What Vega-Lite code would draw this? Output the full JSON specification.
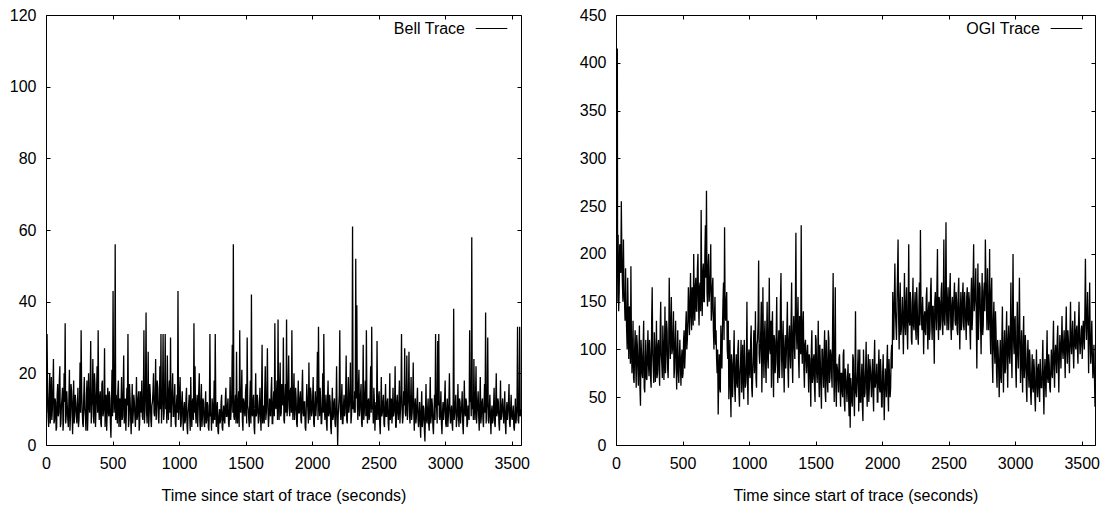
{
"$schema": "https://vega.github.io/schema/vega-lite/v6.json",
"background": "white",
"padding": {"left": 8, "top": 6, "right": 2, "bottom": 2},
"spacing": 95,
"bounds": "flush",
"resolve": {"scale": {"color": "independent"}, "legend": {"color": "independent"}},
"config": {
 "font": "Liberation Sans",
 "view": {"stroke": "#000000", "strokeWidth": 1},
 "axis": {"grid": false, "domain": false, "ticks": true, "tickColor": "#000000", "tickSize": -4, "tickWidth": 1, "labelColor": "#000000", "labelFontSize": 16, "labelFont": "Liberation Sans", "titleFont": "Liberation Sans", "titleFontSize": 16, "titleFontWeight": "normal", "titleColor": "#000000", "labelFlush": false, "labelOverlap": false, "format": "d"},
 "axisX": {"labelPadding": 14, "titlePadding": 16},
 "axisY": {"labelPadding": 14},
 "legend": {"labelFont": "Liberation Sans", "labelFontSize": 16, "labelColor": "#000000"}
},
"datasets": {
"bell": [
{"t":0,"v":22},{"t":8,"v":31},{"t":16,"v":8},{"t":24,"v":14},{"t":32,"v":6},{"t":40,"v":19},{"t":48,"v":10},{"t":56,"v":24},{"t":64,"v":7},{"t":72,"v":12},
{"t":80,"v":5},{"t":88,"v":17},{"t":96,"v":9},{"t":104,"v":22},{"t":112,"v":6},{"t":120,"v":13},{"t":128,"v":4},{"t":136,"v":20},{"t":144,"v":34},{"t":152,"v":8},
{"t":160,"v":11},{"t":168,"v":5},{"t":176,"v":21},{"t":184,"v":8},{"t":192,"v":15},{"t":200,"v":3},{"t":208,"v":18},{"t":216,"v":9},{"t":224,"v":12},{"t":232,"v":6},
{"t":240,"v":16},{"t":248,"v":7},{"t":256,"v":23},{"t":264,"v":32},{"t":272,"v":10},{"t":280,"v":5},{"t":288,"v":19},{"t":296,"v":8},{"t":304,"v":14},{"t":312,"v":4},
{"t":320,"v":20},{"t":328,"v":9},{"t":336,"v":29},{"t":344,"v":11},{"t":352,"v":24},{"t":360,"v":6},{"t":368,"v":17},{"t":376,"v":10},{"t":384,"v":22},{"t":392,"v":32},
{"t":400,"v":7},{"t":408,"v":15},{"t":416,"v":5},{"t":424,"v":18},{"t":432,"v":9},{"t":440,"v":27},{"t":448,"v":12},{"t":456,"v":4},{"t":464,"v":16},{"t":472,"v":8},
{"t":480,"v":13},{"t":488,"v":2},{"t":496,"v":21},{"t":504,"v":43},{"t":512,"v":9},{"t":520,"v":56},{"t":528,"v":14},{"t":536,"v":6},{"t":544,"v":18},{"t":552,"v":11},
{"t":560,"v":5},{"t":568,"v":19},{"t":576,"v":8},{"t":584,"v":25},{"t":592,"v":10},{"t":600,"v":4},{"t":608,"v":16},{"t":616,"v":31},{"t":624,"v":7},{"t":632,"v":13},
{"t":640,"v":3},{"t":648,"v":17},{"t":656,"v":9},{"t":664,"v":12},{"t":672,"v":5},{"t":680,"v":19},{"t":688,"v":8},{"t":696,"v":15},{"t":704,"v":6},{"t":712,"v":11},
{"t":720,"v":18},{"t":728,"v":7},{"t":736,"v":32},{"t":744,"v":10},{"t":752,"v":37},{"t":760,"v":6},{"t":768,"v":26},{"t":776,"v":9},{"t":784,"v":14},{"t":792,"v":5},
{"t":800,"v":12},{"t":808,"v":20},{"t":816,"v":8},{"t":824,"v":24},{"t":832,"v":11},{"t":840,"v":16},{"t":848,"v":6},{"t":856,"v":22},{"t":864,"v":31},{"t":872,"v":10},
{"t":880,"v":31},{"t":888,"v":9},{"t":896,"v":31},{"t":904,"v":13},{"t":912,"v":25},{"t":920,"v":7},{"t":928,"v":18},{"t":936,"v":30},{"t":944,"v":11},{"t":952,"v":20},
{"t":960,"v":8},{"t":968,"v":17},{"t":976,"v":5},{"t":984,"v":14},{"t":992,"v":43},{"t":1000,"v":9},{"t":1008,"v":19},{"t":1016,"v":6},{"t":1024,"v":15},{"t":1032,"v":4},
{"t":1040,"v":12},{"t":1048,"v":7},{"t":1056,"v":16},{"t":1064,"v":3},{"t":1072,"v":11},{"t":1080,"v":8},{"t":1088,"v":19},{"t":1096,"v":5},{"t":1104,"v":13},{"t":1112,"v":34},
{"t":1120,"v":22},{"t":1128,"v":6},{"t":1136,"v":14},{"t":1144,"v":10},{"t":1152,"v":20},{"t":1160,"v":4},{"t":1168,"v":17},{"t":1176,"v":8},{"t":1184,"v":12},{"t":1192,"v":5},
{"t":1200,"v":15},{"t":1208,"v":7},{"t":1216,"v":11},{"t":1224,"v":4},{"t":1232,"v":31},{"t":1240,"v":9},{"t":1248,"v":13},{"t":1256,"v":6},{"t":1264,"v":18},{"t":1272,"v":31},
{"t":1280,"v":5},{"t":1288,"v":12},{"t":1296,"v":3},{"t":1304,"v":10},{"t":1312,"v":7},{"t":1320,"v":14},{"t":1328,"v":4},{"t":1336,"v":11},{"t":1344,"v":6},{"t":1352,"v":16},
{"t":1360,"v":8},{"t":1368,"v":13},{"t":1376,"v":5},{"t":1384,"v":19},{"t":1392,"v":10},{"t":1400,"v":28},{"t":1408,"v":56},{"t":1416,"v":7},{"t":1424,"v":14},{"t":1432,"v":26},
{"t":1440,"v":6},{"t":1448,"v":15},{"t":1456,"v":32},{"t":1464,"v":9},{"t":1472,"v":21},{"t":1480,"v":4},{"t":1488,"v":12},{"t":1496,"v":8},{"t":1504,"v":17},{"t":1512,"v":30},
{"t":1520,"v":10},{"t":1528,"v":5},{"t":1536,"v":18},{"t":1544,"v":42},{"t":1552,"v":8},{"t":1560,"v":14},{"t":1568,"v":3},{"t":1576,"v":20},{"t":1584,"v":9},{"t":1592,"v":12},
{"t":1600,"v":7},{"t":1608,"v":16},{"t":1616,"v":4},{"t":1624,"v":28},{"t":1632,"v":11},{"t":1640,"v":6},{"t":1648,"v":22},{"t":1656,"v":9},{"t":1664,"v":27},{"t":1672,"v":5},
{"t":1680,"v":13},{"t":1688,"v":8},{"t":1696,"v":19},{"t":1704,"v":6},{"t":1712,"v":15},{"t":1720,"v":34},{"t":1728,"v":10},{"t":1736,"v":18},{"t":1744,"v":35},{"t":1752,"v":7},
{"t":1760,"v":23},{"t":1768,"v":9},{"t":1776,"v":14},{"t":1784,"v":30},{"t":1792,"v":6},{"t":1800,"v":17},{"t":1808,"v":35},{"t":1816,"v":11},{"t":1824,"v":25},{"t":1832,"v":8},
{"t":1840,"v":16},{"t":1848,"v":32},{"t":1856,"v":7},{"t":1864,"v":20},{"t":1872,"v":10},{"t":1880,"v":13},{"t":1888,"v":5},{"t":1896,"v":18},{"t":1904,"v":9},{"t":1912,"v":15},
{"t":1920,"v":6},{"t":1928,"v":21},{"t":1936,"v":8},{"t":1944,"v":12},{"t":1952,"v":4},{"t":1960,"v":17},{"t":1968,"v":10},{"t":1976,"v":23},{"t":1984,"v":7},{"t":1992,"v":14},
{"t":2000,"v":9},{"t":2008,"v":19},{"t":2016,"v":5},{"t":2024,"v":15},{"t":2032,"v":11},{"t":2040,"v":26},{"t":2048,"v":33},{"t":2056,"v":8},{"t":2064,"v":13},{"t":2072,"v":6},
{"t":2080,"v":20},{"t":2088,"v":31},{"t":2096,"v":7},{"t":2104,"v":14},{"t":2112,"v":4},{"t":2120,"v":18},{"t":2128,"v":9},{"t":2136,"v":12},{"t":2144,"v":3},{"t":2152,"v":16},
{"t":2160,"v":8},{"t":2168,"v":13},{"t":2176,"v":5},{"t":2184,"v":22},{"t":2192,"v":0},{"t":2200,"v":11},{"t":2208,"v":32},{"t":2216,"v":7},{"t":2224,"v":17},{"t":2232,"v":6},
{"t":2240,"v":14},{"t":2248,"v":9},{"t":2256,"v":25},{"t":2264,"v":6},{"t":2272,"v":19},{"t":2280,"v":11},{"t":2288,"v":23},{"t":2296,"v":8},{"t":2304,"v":61},{"t":2312,"v":12},
{"t":2320,"v":15},{"t":2328,"v":52},{"t":2336,"v":39},{"t":2344,"v":7},{"t":2352,"v":21},{"t":2360,"v":10},{"t":2368,"v":17},{"t":2376,"v":5},{"t":2384,"v":28},{"t":2392,"v":9},
{"t":2400,"v":18},{"t":2408,"v":32},{"t":2416,"v":6},{"t":2424,"v":13},{"t":2432,"v":8},{"t":2440,"v":22},{"t":2448,"v":33},{"t":2456,"v":11},{"t":2464,"v":16},{"t":2472,"v":4},
{"t":2480,"v":12},{"t":2488,"v":29},{"t":2496,"v":7},{"t":2504,"v":15},{"t":2512,"v":3},{"t":2520,"v":19},{"t":2528,"v":9},{"t":2536,"v":14},{"t":2544,"v":5},{"t":2552,"v":17},
{"t":2560,"v":8},{"t":2568,"v":13},{"t":2576,"v":4},{"t":2584,"v":20},{"t":2592,"v":10},{"t":2600,"v":6},{"t":2608,"v":16},{"t":2616,"v":9},{"t":2624,"v":22},{"t":2632,"v":5},
{"t":2640,"v":14},{"t":2648,"v":7},{"t":2656,"v":18},{"t":2664,"v":10},{"t":2672,"v":31},{"t":2680,"v":6},{"t":2688,"v":15},{"t":2696,"v":27},{"t":2704,"v":8},{"t":2712,"v":25},
{"t":2720,"v":11},{"t":2728,"v":26},{"t":2736,"v":6},{"t":2744,"v":19},{"t":2752,"v":9},{"t":2760,"v":23},{"t":2768,"v":4},{"t":2776,"v":13},{"t":2784,"v":8},{"t":2792,"v":16},
{"t":2800,"v":5},{"t":2808,"v":12},{"t":2816,"v":2},{"t":2824,"v":15},{"t":2832,"v":7},{"t":2840,"v":10},{"t":2848,"v":1},{"t":2856,"v":17},{"t":2864,"v":6},{"t":2872,"v":13},
{"t":2880,"v":4},{"t":2888,"v":19},{"t":2896,"v":8},{"t":2904,"v":11},{"t":2912,"v":3},{"t":2920,"v":14},{"t":2928,"v":31},{"t":2936,"v":10},{"t":2944,"v":29},{"t":2952,"v":31},
{"t":2960,"v":7},{"t":2968,"v":15},{"t":2976,"v":3},{"t":2984,"v":12},{"t":2992,"v":9},{"t":3000,"v":18},{"t":3008,"v":5},{"t":3016,"v":13},{"t":3024,"v":8},{"t":3032,"v":20},
{"t":3040,"v":6},{"t":3048,"v":11},{"t":3056,"v":4},{"t":3064,"v":38},{"t":3072,"v":9},{"t":3080,"v":14},{"t":3088,"v":7},{"t":3096,"v":17},{"t":3104,"v":5},{"t":3112,"v":12},
{"t":3120,"v":9},{"t":3128,"v":15},{"t":3136,"v":3},{"t":3144,"v":18},{"t":3152,"v":8},{"t":3160,"v":12},{"t":3168,"v":6},{"t":3176,"v":10},{"t":3184,"v":32},{"t":3192,"v":14},
{"t":3200,"v":58},{"t":3208,"v":12},{"t":3216,"v":24},{"t":3224,"v":7},{"t":3232,"v":22},{"t":3240,"v":9},{"t":3248,"v":15},{"t":3256,"v":4},{"t":3264,"v":19},{"t":3272,"v":8},
{"t":3280,"v":13},{"t":3288,"v":5},{"t":3296,"v":17},{"t":3304,"v":37},{"t":3312,"v":10},{"t":3320,"v":30},{"t":3328,"v":6},{"t":3336,"v":14},{"t":3344,"v":3},{"t":3352,"v":11},
{"t":3360,"v":7},{"t":3368,"v":16},{"t":3376,"v":5},{"t":3384,"v":20},{"t":3392,"v":9},{"t":3400,"v":12},{"t":3408,"v":4},{"t":3416,"v":18},{"t":3424,"v":8},{"t":3432,"v":13},
{"t":3440,"v":6},{"t":3448,"v":15},{"t":3456,"v":3},{"t":3464,"v":12},{"t":3472,"v":9},{"t":3480,"v":17},{"t":3488,"v":5},{"t":3496,"v":14},{"t":3504,"v":7},{"t":3512,"v":11},
{"t":3520,"v":4},{"t":3528,"v":13},{"t":3536,"v":8},{"t":3544,"v":33},{"t":3552,"v":6},{"t":3560,"v":33},{"t":3568,"v":10},
{"t":4,"v":9},{"t":12,"v":15},{"t":20,"v":5},{"t":28,"v":20},{"t":36,"v":11},{"t":44,"v":7},{"t":52,"v":16},{"t":60,"v":6},{"t":68,"v":13},{"t":76,"v":4},
{"t":84,"v":14},{"t":92,"v":8},{"t":100,"v":18},{"t":108,"v":5},{"t":116,"v":11},{"t":124,"v":16},{"t":132,"v":7},{"t":140,"v":12},{"t":148,"v":6},{"t":156,"v":15},
{"t":164,"v":7},{"t":172,"v":13},{"t":180,"v":4},{"t":188,"v":17},{"t":196,"v":9},{"t":204,"v":12},{"t":212,"v":6},{"t":220,"v":14},{"t":228,"v":8},{"t":236,"v":11},
{"t":244,"v":5},{"t":252,"v":12},{"t":260,"v":9},{"t":268,"v":15},{"t":276,"v":6},{"t":284,"v":14},{"t":292,"v":10},{"t":300,"v":4},{"t":308,"v":18},{"t":316,"v":9},
{"t":324,"v":11},{"t":332,"v":16},{"t":340,"v":6},{"t":348,"v":13},{"t":356,"v":8},{"t":364,"v":20},{"t":372,"v":5},{"t":380,"v":15},{"t":388,"v":9},{"t":396,"v":12},
{"t":404,"v":13},{"t":412,"v":6},{"t":420,"v":17},{"t":428,"v":8},{"t":436,"v":12},{"t":444,"v":5},{"t":452,"v":14},{"t":460,"v":9},{"t":468,"v":10},{"t":476,"v":15},
{"t":484,"v":6},{"t":492,"v":11},{"t":500,"v":8},{"t":508,"v":16},{"t":516,"v":12},{"t":524,"v":7},{"t":532,"v":10},{"t":540,"v":15},{"t":548,"v":5},{"t":556,"v":13},
{"t":564,"v":12},{"t":572,"v":7},{"t":580,"v":15},{"t":588,"v":6},{"t":596,"v":13},{"t":604,"v":9},{"t":612,"v":11},{"t":620,"v":5},{"t":628,"v":17},{"t":636,"v":8},
{"t":644,"v":10},{"t":652,"v":6},{"t":660,"v":14},{"t":668,"v":8},{"t":676,"v":11},{"t":684,"v":7},{"t":692,"v":13},{"t":700,"v":4},{"t":708,"v":15},{"t":716,"v":9},
{"t":724,"v":8},{"t":732,"v":14},{"t":740,"v":6},{"t":748,"v":16},{"t":756,"v":9},{"t":764,"v":12},{"t":772,"v":5},{"t":780,"v":17},{"t":788,"v":7},{"t":796,"v":11},
{"t":804,"v":15},{"t":812,"v":9},{"t":820,"v":13},{"t":828,"v":7},{"t":836,"v":18},{"t":844,"v":8},{"t":852,"v":12},{"t":860,"v":10},{"t":868,"v":6},{"t":876,"v":14},
{"t":884,"v":7},{"t":892,"v":16},{"t":900,"v":10},{"t":908,"v":6},{"t":916,"v":12},{"t":924,"v":15},{"t":932,"v":9},{"t":940,"v":5},{"t":948,"v":14},{"t":956,"v":8},
{"t":964,"v":13},{"t":972,"v":6},{"t":980,"v":11},{"t":988,"v":9},{"t":996,"v":7},{"t":1004,"v":15},{"t":1012,"v":5},{"t":1020,"v":12},{"t":1028,"v":8},{"t":1036,"v":10},
{"t":1044,"v":6},{"t":1052,"v":13},{"t":1060,"v":5},{"t":1068,"v":9},{"t":1076,"v":14},{"t":1084,"v":4},{"t":1092,"v":10},{"t":1100,"v":12},{"t":1108,"v":7},{"t":1116,"v":9},
{"t":1124,"v":9},{"t":1132,"v":11},{"t":1140,"v":5},{"t":1148,"v":15},{"t":1156,"v":7},{"t":1164,"v":12},{"t":1172,"v":5},{"t":1180,"v":13},{"t":1188,"v":6},{"t":1196,"v":10},
{"t":1204,"v":6},{"t":1212,"v":12},{"t":1220,"v":5},{"t":1228,"v":10},{"t":1236,"v":8},{"t":1244,"v":4},{"t":1252,"v":11},{"t":1260,"v":9},{"t":1268,"v":7},{"t":1276,"v":12},
{"t":1284,"v":9},{"t":1292,"v":4},{"t":1300,"v":8},{"t":1308,"v":6},{"t":1316,"v":12},{"t":1324,"v":5},{"t":1332,"v":9},{"t":1340,"v":7},{"t":1348,"v":13},{"t":1356,"v":8},
{"t":1364,"v":11},{"t":1372,"v":6},{"t":1380,"v":10},{"t":1388,"v":7},{"t":1396,"v":14},{"t":1404,"v":9},{"t":1412,"v":8},{"t":1420,"v":11},{"t":1428,"v":6},{"t":1436,"v":9},
{"t":1444,"v":12},{"t":1452,"v":5},{"t":1460,"v":10},{"t":1468,"v":14},{"t":1476,"v":7},{"t":1484,"v":13},{"t":1492,"v":9},{"t":1500,"v":15},{"t":1508,"v":6},{"t":1516,"v":11},
{"t":1524,"v":7},{"t":1532,"v":13},{"t":1540,"v":6},{"t":1548,"v":9},{"t":1556,"v":12},{"t":1564,"v":5},{"t":1572,"v":11},{"t":1580,"v":8},{"t":1588,"v":14},{"t":1596,"v":6},
{"t":1604,"v":11},{"t":1612,"v":8},{"t":1620,"v":13},{"t":1628,"v":6},{"t":1636,"v":9},{"t":1644,"v":15},{"t":1652,"v":7},{"t":1660,"v":14},{"t":1668,"v":10},{"t":1676,"v":8},
{"t":1684,"v":9},{"t":1692,"v":15},{"t":1700,"v":6},{"t":1708,"v":12},{"t":1716,"v":8},{"t":1724,"v":11},{"t":1732,"v":14},{"t":1740,"v":7},{"t":1748,"v":12},{"t":1756,"v":16},
{"t":1764,"v":8},{"t":1772,"v":17},{"t":1780,"v":11},{"t":1788,"v":7},{"t":1796,"v":13},{"t":1804,"v":9},{"t":1812,"v":8},{"t":1820,"v":16},{"t":1828,"v":10},{"t":1836,"v":15},
{"t":1844,"v":9},{"t":1852,"v":12},{"t":1860,"v":14},{"t":1868,"v":7},{"t":1876,"v":16},{"t":1884,"v":6},{"t":1892,"v":12},{"t":1900,"v":9},{"t":1908,"v":13},{"t":1916,"v":7},
{"t":1924,"v":15},{"t":1932,"v":9},{"t":1940,"v":12},{"t":1948,"v":5},{"t":1956,"v":10},{"t":1964,"v":13},{"t":1972,"v":6},{"t":1980,"v":11},{"t":1988,"v":16},{"t":1996,"v":8},
{"t":2004,"v":13},{"t":2012,"v":6},{"t":2020,"v":11},{"t":2028,"v":8},{"t":2036,"v":14},{"t":2044,"v":7},{"t":2052,"v":12},{"t":2060,"v":16},{"t":2068,"v":6},{"t":2076,"v":11},
{"t":2084,"v":9},{"t":2092,"v":12},{"t":2100,"v":10},{"t":2108,"v":6},{"t":2116,"v":13},{"t":2124,"v":8},{"t":2132,"v":14},{"t":2140,"v":5},{"t":2148,"v":10},{"t":2156,"v":7},
{"t":2164,"v":12},{"t":2172,"v":6},{"t":2180,"v":11},{"t":2188,"v":9},{"t":2196,"v":8},{"t":2204,"v":14},{"t":2212,"v":10},{"t":2220,"v":12},{"t":2228,"v":6},{"t":2236,"v":11},
{"t":2244,"v":8},{"t":2252,"v":14},{"t":2260,"v":7},{"t":2268,"v":12},{"t":2276,"v":9},{"t":2284,"v":15},{"t":2292,"v":6},{"t":2300,"v":13},{"t":2308,"v":10},{"t":2316,"v":9},
{"t":2324,"v":9},{"t":2332,"v":13},{"t":2340,"v":11},{"t":2348,"v":16},{"t":2356,"v":8},{"t":2364,"v":14},{"t":2372,"v":6},{"t":2380,"v":12},{"t":2388,"v":7},{"t":2396,"v":14},
{"t":2404,"v":8},{"t":2412,"v":11},{"t":2420,"v":12},{"t":2428,"v":7},{"t":2436,"v":14},{"t":2444,"v":9},{"t":2452,"v":10},{"t":2460,"v":6},{"t":2468,"v":12},{"t":2476,"v":9},
{"t":2484,"v":7},{"t":2492,"v":11},{"t":2500,"v":13},{"t":2508,"v":6},{"t":2516,"v":10},{"t":2524,"v":8},{"t":2532,"v":12},{"t":2540,"v":6},{"t":2548,"v":11},{"t":2556,"v":8},
{"t":2564,"v":12},{"t":2572,"v":6},{"t":2580,"v":10},{"t":2588,"v":7},{"t":2596,"v":13},{"t":2604,"v":9},{"t":2612,"v":8},{"t":2620,"v":11},{"t":2628,"v":5},{"t":2636,"v":12},
{"t":2644,"v":9},{"t":2652,"v":12},{"t":2660,"v":6},{"t":2668,"v":14},{"t":2676,"v":10},{"t":2684,"v":8},{"t":2692,"v":11},{"t":2700,"v":9},{"t":2708,"v":13},{"t":2716,"v":7},
{"t":2724,"v":14},{"t":2732,"v":8},{"t":2740,"v":12},{"t":2748,"v":7},{"t":2756,"v":13},{"t":2764,"v":9},{"t":2772,"v":11},{"t":2780,"v":6},{"t":2788,"v":12},{"t":2796,"v":7},
{"t":2804,"v":9},{"t":2812,"v":6},{"t":2820,"v":10},{"t":2828,"v":5},{"t":2836,"v":11},{"t":2844,"v":4},{"t":2852,"v":9},{"t":2860,"v":7},{"t":2868,"v":10},{"t":2876,"v":6},
{"t":2884,"v":11},{"t":2892,"v":6},{"t":2900,"v":13},{"t":2908,"v":5},{"t":2916,"v":9},{"t":2924,"v":7},{"t":2932,"v":12},{"t":2940,"v":6},{"t":2948,"v":11},{"t":2956,"v":8},
{"t":2964,"v":10},{"t":2972,"v":6},{"t":2980,"v":9},{"t":2988,"v":7},{"t":2996,"v":13},{"t":3004,"v":6},{"t":3012,"v":10},{"t":3020,"v":5},{"t":3028,"v":12},{"t":3036,"v":9},
{"t":3044,"v":9},{"t":3052,"v":6},{"t":3060,"v":12},{"t":3068,"v":7},{"t":3076,"v":11},{"t":3084,"v":5},{"t":3092,"v":10},{"t":3100,"v":8},{"t":3108,"v":13},{"t":3116,"v":6},
{"t":3124,"v":11},{"t":3132,"v":6},{"t":3140,"v":10},{"t":3148,"v":9},{"t":3156,"v":13},{"t":3164,"v":5},{"t":3172,"v":11},{"t":3180,"v":7},{"t":3188,"v":12},{"t":3196,"v":8},
{"t":3204,"v":10},{"t":3212,"v":7},{"t":3220,"v":11},{"t":3228,"v":13},{"t":3236,"v":6},{"t":3244,"v":12},{"t":3252,"v":8},{"t":3260,"v":11},{"t":3268,"v":6},{"t":3276,"v":12},
{"t":3284,"v":7},{"t":3292,"v":11},{"t":3300,"v":9},{"t":3308,"v":6},{"t":3316,"v":12},{"t":3324,"v":7},{"t":3332,"v":10},{"t":3340,"v":8},{"t":3348,"v":9},{"t":3356,"v":6},
{"t":3364,"v":11},{"t":3372,"v":6},{"t":3380,"v":12},{"t":3388,"v":8},{"t":3396,"v":13},{"t":3404,"v":6},{"t":3412,"v":10},{"t":3420,"v":7},{"t":3428,"v":11},{"t":3436,"v":9},
{"t":3444,"v":10},{"t":3452,"v":6},{"t":3460,"v":9},{"t":3468,"v":7},{"t":3476,"v":12},{"t":3484,"v":6},{"t":3492,"v":10},{"t":3500,"v":8},{"t":3508,"v":9},{"t":3516,"v":5},
{"t":3524,"v":9},{"t":3532,"v":6},{"t":3540,"v":11},{"t":3548,"v":7},{"t":3556,"v":10},{"t":3564,"v":8}
],
"ogi": [
{"t":0,"v":180},{"t":10,"v":415},{"t":8,"v":150},{"t":16,"v":220},{"t":24,"v":160},{"t":32,"v":200},{"t":40,"v":255},{"t":48,"v":170},{"t":56,"v":215},{"t":64,"v":150},{"t":72,"v":185},
{"t":80,"v":120},{"t":88,"v":175},{"t":96,"v":90},{"t":104,"v":140},{"t":112,"v":187},{"t":120,"v":75},{"t":128,"v":130},{"t":136,"v":65},{"t":144,"v":120},{"t":152,"v":60},
{"t":160,"v":105},{"t":168,"v":62},{"t":176,"v":125},{"t":184,"v":41},{"t":192,"v":95},{"t":200,"v":70},{"t":208,"v":130},{"t":216,"v":55},{"t":224,"v":110},{"t":232,"v":68},
{"t":240,"v":120},{"t":248,"v":72},{"t":256,"v":95},{"t":264,"v":60},{"t":272,"v":165},{"t":280,"v":80},{"t":288,"v":118},{"t":296,"v":66},{"t":304,"v":130},{"t":312,"v":75},
{"t":320,"v":110},{"t":328,"v":62},{"t":336,"v":150},{"t":344,"v":85},{"t":352,"v":125},{"t":360,"v":68},{"t":368,"v":145},{"t":376,"v":95},{"t":384,"v":120},{"t":392,"v":70},
{"t":400,"v":175},{"t":408,"v":90},{"t":416,"v":155},{"t":424,"v":100},{"t":432,"v":140},{"t":440,"v":80},{"t":448,"v":130},{"t":456,"v":58},{"t":464,"v":120},{"t":472,"v":65},
{"t":480,"v":110},{"t":488,"v":62},{"t":496,"v":100},{"t":504,"v":75},{"t":512,"v":120},{"t":520,"v":95},{"t":528,"v":140},{"t":536,"v":110},{"t":544,"v":165},{"t":552,"v":115},
{"t":560,"v":180},{"t":568,"v":120},{"t":576,"v":160},{"t":584,"v":200},{"t":592,"v":130},{"t":600,"v":175},{"t":608,"v":140},{"t":616,"v":200},{"t":624,"v":125},{"t":632,"v":170},
{"t":640,"v":246},{"t":648,"v":135},{"t":656,"v":190},{"t":664,"v":150},{"t":672,"v":230},{"t":680,"v":266},{"t":688,"v":145},{"t":696,"v":200},{"t":704,"v":160},{"t":712,"v":210},
{"t":720,"v":140},{"t":728,"v":175},{"t":736,"v":100},{"t":744,"v":155},{"t":752,"v":120},{"t":760,"v":75},{"t":768,"v":32},{"t":776,"v":95},{"t":784,"v":55},{"t":792,"v":100},
{"t":800,"v":120},{"t":808,"v":170},{"t":816,"v":228},{"t":824,"v":130},{"t":832,"v":160},{"t":840,"v":90},{"t":848,"v":48},{"t":856,"v":110},{"t":864,"v":29},{"t":872,"v":85},
{"t":880,"v":70},{"t":888,"v":120},{"t":896,"v":45},{"t":904,"v":95},{"t":912,"v":60},{"t":920,"v":110},{"t":928,"v":40},{"t":936,"v":85},{"t":944,"v":55},{"t":952,"v":105},
{"t":960,"v":48},{"t":968,"v":90},{"t":976,"v":65},{"t":984,"v":150},{"t":992,"v":42},{"t":1000,"v":100},{"t":1008,"v":70},{"t":1016,"v":125},{"t":1024,"v":50},{"t":1032,"v":95},
{"t":1040,"v":75},{"t":1048,"v":140},{"t":1056,"v":60},{"t":1064,"v":110},{"t":1072,"v":193},{"t":1080,"v":85},{"t":1088,"v":120},{"t":1096,"v":55},{"t":1104,"v":165},{"t":1112,"v":70},
{"t":1120,"v":130},{"t":1128,"v":65},{"t":1136,"v":150},{"t":1144,"v":80},{"t":1152,"v":175},{"t":1160,"v":95},{"t":1168,"v":60},{"t":1176,"v":140},{"t":1184,"v":50},{"t":1192,"v":110},
{"t":1200,"v":85},{"t":1208,"v":155},{"t":1216,"v":65},{"t":1224,"v":120},{"t":1232,"v":90},{"t":1240,"v":180},{"t":1248,"v":70},{"t":1256,"v":130},{"t":1264,"v":55},{"t":1272,"v":115},
{"t":1280,"v":95},{"t":1288,"v":150},{"t":1296,"v":60},{"t":1304,"v":125},{"t":1312,"v":80},{"t":1320,"v":170},{"t":1328,"v":65},{"t":1336,"v":135},{"t":1344,"v":90},{"t":1352,"v":222},
{"t":1360,"v":100},{"t":1368,"v":155},{"t":1376,"v":70},{"t":1384,"v":120},{"t":1392,"v":230},{"t":1400,"v":85},{"t":1408,"v":140},{"t":1416,"v":60},{"t":1424,"v":110},{"t":1432,"v":75},
{"t":1440,"v":105},{"t":1448,"v":55},{"t":1456,"v":90},{"t":1464,"v":40},{"t":1472,"v":120},{"t":1480,"v":70},{"t":1488,"v":95},{"t":1496,"v":45},{"t":1504,"v":110},{"t":1512,"v":65},
{"t":1520,"v":130},{"t":1528,"v":50},{"t":1536,"v":85},{"t":1544,"v":38},{"t":1552,"v":100},{"t":1560,"v":60},{"t":1568,"v":120},{"t":1576,"v":45},{"t":1584,"v":90},{"t":1592,"v":55},
{"t":1600,"v":110},{"t":1608,"v":70},{"t":1616,"v":95},{"t":1624,"v":60},{"t":1632,"v":180},{"t":1640,"v":45},{"t":1648,"v":165},{"t":1656,"v":40},{"t":1664,"v":80},{"t":1672,"v":55},
{"t":1680,"v":95},{"t":1688,"v":40},{"t":1696,"v":75},{"t":1704,"v":50},{"t":1712,"v":100},{"t":1720,"v":35},{"t":1728,"v":70},{"t":1736,"v":45},{"t":1744,"v":85},{"t":1752,"v":30},
{"t":1760,"v":18},{"t":1768,"v":60},{"t":1776,"v":40},{"t":1784,"v":90},{"t":1792,"v":30},{"t":1800,"v":140},{"t":1808,"v":50},{"t":1816,"v":80},{"t":1824,"v":35},{"t":1832,"v":100},
{"t":1840,"v":45},{"t":1848,"v":85},{"t":1856,"v":25},{"t":1864,"v":75},{"t":1872,"v":55},{"t":1880,"v":108},{"t":1888,"v":40},{"t":1896,"v":95},{"t":1904,"v":60},{"t":1912,"v":80},
{"t":1920,"v":50},{"t":1928,"v":90},{"t":1936,"v":35},{"t":1944,"v":110},{"t":1952,"v":65},{"t":1960,"v":85},{"t":1968,"v":45},{"t":1976,"v":100},{"t":1984,"v":55},{"t":1992,"v":75},
{"t":2000,"v":40},{"t":2008,"v":95},{"t":2016,"v":26},{"t":2024,"v":80},{"t":2032,"v":50},{"t":2040,"v":105},{"t":2048,"v":35},{"t":2056,"v":70},{"t":2064,"v":60},{"t":2072,"v":105},
{"t":2080,"v":160},{"t":2088,"v":110},{"t":2096,"v":190},{"t":2104,"v":125},{"t":2112,"v":150},{"t":2120,"v":215},{"t":2128,"v":100},{"t":2136,"v":170},{"t":2144,"v":120},{"t":2152,"v":155},
{"t":2160,"v":95},{"t":2168,"v":180},{"t":2176,"v":115},{"t":2184,"v":165},{"t":2192,"v":100},{"t":2200,"v":210},{"t":2208,"v":125},{"t":2216,"v":150},{"t":2224,"v":105},{"t":2232,"v":175},
{"t":2240,"v":120},{"t":2248,"v":160},{"t":2256,"v":110},{"t":2264,"v":145},{"t":2272,"v":105},{"t":2280,"v":170},{"t":2288,"v":225},{"t":2296,"v":130},{"t":2304,"v":155},{"t":2312,"v":95},
{"t":2320,"v":140},{"t":2328,"v":115},{"t":2336,"v":165},{"t":2344,"v":100},{"t":2352,"v":150},{"t":2360,"v":120},{"t":2368,"v":175},{"t":2376,"v":110},{"t":2384,"v":145},{"t":2392,"v":85},
{"t":2400,"v":160},{"t":2408,"v":120},{"t":2416,"v":205},{"t":2424,"v":110},{"t":2432,"v":150},{"t":2440,"v":130},{"t":2448,"v":170},{"t":2456,"v":115},{"t":2464,"v":215},{"t":2472,"v":125},
{"t":2480,"v":233},{"t":2488,"v":120},{"t":2496,"v":165},{"t":2504,"v":135},{"t":2512,"v":180},{"t":2520,"v":110},{"t":2528,"v":155},{"t":2536,"v":140},{"t":2544,"v":170},{"t":2552,"v":125},
{"t":2560,"v":150},{"t":2568,"v":115},{"t":2576,"v":175},{"t":2584,"v":100},{"t":2592,"v":160},{"t":2600,"v":130},{"t":2608,"v":170},{"t":2616,"v":120},{"t":2624,"v":145},{"t":2632,"v":110},
{"t":2640,"v":165},{"t":2648,"v":125},{"t":2656,"v":150},{"t":2664,"v":100},{"t":2672,"v":175},{"t":2680,"v":135},{"t":2688,"v":210},{"t":2696,"v":150},{"t":2704,"v":185},{"t":2712,"v":80},
{"t":2720,"v":190},{"t":2728,"v":140},{"t":2736,"v":165},{"t":2744,"v":95},{"t":2752,"v":180},{"t":2760,"v":125},{"t":2768,"v":170},{"t":2776,"v":215},{"t":2784,"v":150},{"t":2792,"v":185},
{"t":2800,"v":120},{"t":2808,"v":205},{"t":2816,"v":95},{"t":2824,"v":175},{"t":2832,"v":65},{"t":2840,"v":150},{"t":2848,"v":85},{"t":2856,"v":120},{"t":2864,"v":60},{"t":2872,"v":100},
{"t":2880,"v":50},{"t":2888,"v":110},{"t":2896,"v":65},{"t":2904,"v":145},{"t":2912,"v":55},{"t":2920,"v":120},{"t":2928,"v":80},{"t":2936,"v":140},{"t":2944,"v":60},{"t":2952,"v":125},
{"t":2960,"v":85},{"t":2968,"v":170},{"t":2976,"v":70},{"t":2984,"v":200},{"t":2992,"v":95},{"t":3000,"v":135},{"t":3008,"v":60},{"t":3016,"v":150},{"t":3024,"v":80},{"t":3032,"v":175},
{"t":3040,"v":65},{"t":3048,"v":120},{"t":3056,"v":55},{"t":3064,"v":135},{"t":3072,"v":80},{"t":3080,"v":100},{"t":3088,"v":45},{"t":3096,"v":110},{"t":3104,"v":60},{"t":3112,"v":90},
{"t":3120,"v":42},{"t":3128,"v":95},{"t":3136,"v":55},{"t":3144,"v":80},{"t":3152,"v":35},{"t":3160,"v":100},{"t":3168,"v":50},{"t":3176,"v":85},{"t":3184,"v":45},{"t":3192,"v":70},
{"t":3200,"v":60},{"t":3208,"v":110},{"t":3216,"v":32},{"t":3224,"v":90},{"t":3232,"v":50},{"t":3240,"v":120},{"t":3248,"v":65},{"t":3256,"v":85},{"t":3264,"v":55},{"t":3272,"v":100},
{"t":3280,"v":70},{"t":3288,"v":130},{"t":3296,"v":60},{"t":3304,"v":105},{"t":3312,"v":75},{"t":3320,"v":125},{"t":3328,"v":55},{"t":3336,"v":115},{"t":3344,"v":80},{"t":3352,"v":135},
{"t":3360,"v":90},{"t":3368,"v":120},{"t":3376,"v":70},{"t":3384,"v":145},{"t":3392,"v":85},{"t":3400,"v":110},{"t":3408,"v":75},{"t":3416,"v":150},{"t":3424,"v":95},{"t":3432,"v":130},
{"t":3440,"v":80},{"t":3448,"v":140},{"t":3456,"v":100},{"t":3464,"v":125},{"t":3472,"v":85},{"t":3480,"v":150},{"t":3488,"v":95},{"t":3496,"v":120},{"t":3504,"v":90},{"t":3512,"v":130},
{"t":3520,"v":100},{"t":3528,"v":195},{"t":3536,"v":110},{"t":3544,"v":160},{"t":3552,"v":75},{"t":3560,"v":170},{"t":3568,"v":85},{"t":3576,"v":130},{"t":3584,"v":70},{"t":3592,"v":105},
{"t":3600,"v":40},
{"t":4,"v":190},{"t":12,"v":175},{"t":20,"v":140},{"t":28,"v":210},{"t":36,"v":180},{"t":44,"v":200},{"t":52,"v":150},{"t":60,"v":160},{"t":68,"v":130},{"t":76,"v":145},
{"t":84,"v":100},{"t":92,"v":130},{"t":100,"v":145},{"t":108,"v":85},{"t":116,"v":110},{"t":124,"v":95},{"t":132,"v":70},{"t":140,"v":100},{"t":148,"v":85},{"t":156,"v":115},
{"t":164,"v":80},{"t":172,"v":95},{"t":180,"v":60},{"t":188,"v":110},{"t":196,"v":75},{"t":204,"v":105},{"t":212,"v":60},{"t":220,"v":85},{"t":228,"v":70},{"t":236,"v":95},
{"t":244,"v":85},{"t":252,"v":110},{"t":260,"v":70},{"t":268,"v":130},{"t":276,"v":95},{"t":284,"v":65},{"t":292,"v":100},{"t":300,"v":85},{"t":308,"v":70},{"t":316,"v":105},
{"t":324,"v":80},{"t":332,"v":120},{"t":340,"v":95},{"t":348,"v":70},{"t":356,"v":105},{"t":364,"v":90},{"t":372,"v":75},{"t":380,"v":130},{"t":388,"v":80},{"t":396,"v":100},
{"t":404,"v":130},{"t":412,"v":120},{"t":420,"v":95},{"t":428,"v":115},{"t":436,"v":70},{"t":444,"v":110},{"t":452,"v":85},{"t":460,"v":95},{"t":468,"v":75},{"t":476,"v":90},
{"t":484,"v":85},{"t":492,"v":90},{"t":500,"v":70},{"t":508,"v":110},{"t":516,"v":80},{"t":524,"v":125},{"t":532,"v":100},{"t":540,"v":130},{"t":548,"v":140},{"t":556,"v":150},
{"t":564,"v":135},{"t":572,"v":165},{"t":580,"v":125},{"t":588,"v":150},{"t":596,"v":165},{"t":604,"v":140},{"t":612,"v":185},{"t":620,"v":150},{"t":628,"v":165},{"t":636,"v":140},
{"t":644,"v":165},{"t":652,"v":180},{"t":660,"v":150},{"t":668,"v":200},{"t":676,"v":175},{"t":684,"v":160},{"t":692,"v":185},{"t":700,"v":150},{"t":708,"v":175},{"t":716,"v":130},
{"t":724,"v":165},{"t":732,"v":120},{"t":740,"v":135},{"t":748,"v":105},{"t":756,"v":90},{"t":764,"v":100},{"t":772,"v":70},{"t":780,"v":60},{"t":788,"v":125},{"t":796,"v":80},
{"t":804,"v":150},{"t":812,"v":110},{"t":820,"v":140},{"t":828,"v":150},{"t":836,"v":100},{"t":844,"v":130},{"t":852,"v":75},{"t":860,"v":60},{"t":868,"v":95},{"t":876,"v":50},
{"t":884,"v":95},{"t":892,"v":60},{"t":900,"v":80},{"t":908,"v":65},{"t":916,"v":100},{"t":924,"v":55},{"t":932,"v":75},{"t":940,"v":110},{"t":948,"v":80},{"t":956,"v":60},
{"t":964,"v":110},{"t":972,"v":60},{"t":980,"v":85},{"t":988,"v":70},{"t":996,"v":95},{"t":1004,"v":75},{"t":1012,"v":110},{"t":1020,"v":60},{"t":1028,"v":80},{"t":1036,"v":120},
{"t":1044,"v":90},{"t":1052,"v":70},{"t":1060,"v":105},{"t":1068,"v":130},{"t":1076,"v":95},{"t":1084,"v":100},{"t":1092,"v":150},{"t":1100,"v":90},{"t":1108,"v":100},{"t":1116,"v":115},
{"t":1124,"v":85},{"t":1132,"v":115},{"t":1140,"v":90},{"t":1148,"v":120},{"t":1156,"v":100},{"t":1164,"v":130},{"t":1172,"v":120},{"t":1180,"v":80},{"t":1188,"v":115},{"t":1196,"v":75},
{"t":1204,"v":115},{"t":1212,"v":90},{"t":1220,"v":105},{"t":1228,"v":70},{"t":1236,"v":150},{"t":1244,"v":95},{"t":1252,"v":110},{"t":1260,"v":85},{"t":1268,"v":100},{"t":1276,"v":80},
{"t":1284,"v":120},{"t":1292,"v":80},{"t":1300,"v":110},{"t":1308,"v":95},{"t":1316,"v":130},{"t":1324,"v":90},{"t":1332,"v":115},{"t":1340,"v":105},{"t":1348,"v":140},{"t":1356,"v":120},
{"t":1364,"v":130},{"t":1372,"v":90},{"t":1380,"v":135},{"t":1388,"v":95},{"t":1396,"v":110},{"t":1404,"v":125},{"t":1412,"v":80},{"t":1420,"v":105},{"t":1428,"v":90},{"t":1436,"v":95},
{"t":1444,"v":80},{"t":1452,"v":95},{"t":1460,"v":70},{"t":1468,"v":100},{"t":1476,"v":65},{"t":1484,"v":90},{"t":1492,"v":60},{"t":1500,"v":115},{"t":1508,"v":75},{"t":1516,"v":85},
{"t":1524,"v":70},{"t":1532,"v":105},{"t":1540,"v":60},{"t":1548,"v":100},{"t":1556,"v":75},{"t":1564,"v":95},{"t":1572,"v":55},{"t":1580,"v":110},{"t":1588,"v":65},{"t":1596,"v":120},
{"t":1604,"v":65},{"t":1612,"v":100},{"t":1620,"v":75},{"t":1628,"v":125},{"t":1636,"v":80},{"t":1644,"v":95},{"t":1652,"v":60},{"t":1660,"v":85},{"t":1668,"v":70},{"t":1676,"v":90},
{"t":1684,"v":60},{"t":1692,"v":75},{"t":1700,"v":55},{"t":1708,"v":95},{"t":1716,"v":45},{"t":1724,"v":80},{"t":1732,"v":60},{"t":1740,"v":70},{"t":1748,"v":50},{"t":1756,"v":75},
{"t":1764,"v":70},{"t":1772,"v":45},{"t":1780,"v":95},{"t":1788,"v":50},{"t":1796,"v":75},{"t":1804,"v":55},{"t":1812,"v":65},{"t":1820,"v":100},{"t":1828,"v":60},{"t":1836,"v":45},
{"t":1844,"v":70},{"t":1852,"v":40},{"t":1860,"v":100},{"t":1868,"v":50},{"t":1876,"v":80},{"t":1884,"v":60},{"t":1892,"v":75},{"t":1900,"v":45},{"t":1908,"v":90},{"t":1916,"v":65},
{"t":1924,"v":75},{"t":1932,"v":55},{"t":1940,"v":85},{"t":1948,"v":60},{"t":1956,"v":70},{"t":1964,"v":45},{"t":1972,"v":80},{"t":1980,"v":60},{"t":1988,"v":90},{"t":1996,"v":40},
{"t":2004,"v":75},{"t":2012,"v":60},{"t":2020,"v":55},{"t":2028,"v":70},{"t":2036,"v":85},{"t":2044,"v":55},{"t":2052,"v":90},{"t":2060,"v":50},{"t":2068,"v":95},{"t":2076,"v":80},
{"t":2084,"v":130},{"t":2092,"v":155},{"t":2100,"v":140},{"t":2108,"v":110},{"t":2116,"v":180},{"t":2124,"v":135},{"t":2132,"v":145},{"t":2140,"v":115},{"t":2148,"v":135},{"t":2156,"v":125},
{"t":2164,"v":140},{"t":2172,"v":125},{"t":2180,"v":150},{"t":2188,"v":120},{"t":2196,"v":140},{"t":2204,"v":130},{"t":2212,"v":160},{"t":2220,"v":110},{"t":2228,"v":145},{"t":2236,"v":125},
{"t":2244,"v":145},{"t":2252,"v":120},{"t":2260,"v":165},{"t":2268,"v":115},{"t":2276,"v":140},{"t":2284,"v":125},{"t":2292,"v":150},{"t":2300,"v":120},{"t":2308,"v":135},{"t":2316,"v":130},
{"t":2324,"v":120},{"t":2332,"v":155},{"t":2340,"v":125},{"t":2348,"v":140},{"t":2356,"v":110},{"t":2364,"v":160},{"t":2372,"v":130},{"t":2380,"v":145},{"t":2388,"v":120},{"t":2396,"v":150},
{"t":2404,"v":135},{"t":2412,"v":165},{"t":2420,"v":130},{"t":2428,"v":155},{"t":2436,"v":120},{"t":2444,"v":160},{"t":2452,"v":125},{"t":2460,"v":150},{"t":2468,"v":130},{"t":2476,"v":150},
{"t":2484,"v":140},{"t":2492,"v":150},{"t":2500,"v":120},{"t":2508,"v":160},{"t":2516,"v":125},{"t":2524,"v":145},{"t":2532,"v":120},{"t":2540,"v":155},{"t":2548,"v":130},{"t":2556,"v":160},
{"t":2564,"v":120},{"t":2572,"v":160},{"t":2580,"v":130},{"t":2588,"v":140},{"t":2596,"v":120},{"t":2604,"v":155},{"t":2612,"v":125},{"t":2620,"v":160},{"t":2628,"v":130},{"t":2636,"v":155},
{"t":2644,"v":130},{"t":2652,"v":160},{"t":2660,"v":120},{"t":2668,"v":155},{"t":2676,"v":120},{"t":2684,"v":175},{"t":2692,"v":140},{"t":2700,"v":160},{"t":2708,"v":125},{"t":2716,"v":145},
{"t":2724,"v":110},{"t":2732,"v":170},{"t":2740,"v":125},{"t":2748,"v":150},{"t":2756,"v":115},{"t":2764,"v":160},{"t":2772,"v":140},{"t":2780,"v":175},{"t":2788,"v":120},{"t":2796,"v":150},
{"t":2804,"v":140},{"t":2812,"v":120},{"t":2820,"v":160},{"t":2828,"v":90},{"t":2836,"v":130},{"t":2844,"v":100},{"t":2852,"v":140},{"t":2860,"v":75},{"t":2868,"v":110},{"t":2876,"v":80},
{"t":2884,"v":90},{"t":2892,"v":70},{"t":2900,"v":110},{"t":2908,"v":85},{"t":2916,"v":100},{"t":2924,"v":75},{"t":2932,"v":115},{"t":2940,"v":90},{"t":2948,"v":110},{"t":2956,"v":95},
{"t":2964,"v":120},{"t":2972,"v":95},{"t":2980,"v":135},{"t":2988,"v":110},{"t":2996,"v":130},{"t":3004,"v":80},{"t":3012,"v":110},{"t":3020,"v":95},{"t":3028,"v":125},{"t":3036,"v":110},
{"t":3044,"v":95},{"t":3052,"v":80},{"t":3060,"v":110},{"t":3068,"v":70},{"t":3076,"v":115},{"t":3084,"v":60},{"t":3092,"v":90},{"t":3100,"v":75},{"t":3108,"v":100},{"t":3116,"v":55},
{"t":3124,"v":75},{"t":3132,"v":60},{"t":3140,"v":90},{"t":3148,"v":50},{"t":3156,"v":70},{"t":3164,"v":65},{"t":3172,"v":80},{"t":3180,"v":55},{"t":3188,"v":90},{"t":3196,"v":60},
{"t":3204,"v":85},{"t":3212,"v":60},{"t":3220,"v":75},{"t":3228,"v":65},{"t":3236,"v":90},{"t":3244,"v":70},{"t":3252,"v":95},{"t":3260,"v":60},{"t":3268,"v":80},{"t":3276,"v":75},
{"t":3284,"v":100},{"t":3292,"v":80},{"t":3300,"v":95},{"t":3308,"v":90},{"t":3316,"v":110},{"t":3324,"v":85},{"t":3332,"v":90},{"t":3340,"v":100},{"t":3348,"v":105},{"t":3356,"v":100},
{"t":3364,"v":105},{"t":3372,"v":95},{"t":3380,"v":115},{"t":3388,"v":100},{"t":3396,"v":120},{"t":3404,"v":95},{"t":3412,"v":115},{"t":3420,"v":105},{"t":3428,"v":115},{"t":3436,"v":100},
{"t":3444,"v":110},{"t":3452,"v":105},{"t":3460,"v":120},{"t":3468,"v":100},{"t":3476,"v":125},{"t":3484,"v":110},{"t":3492,"v":105},{"t":3500,"v":125},{"t":3508,"v":110},{"t":3516,"v":115},
{"t":3524,"v":140},{"t":3532,"v":130},{"t":3540,"v":135},{"t":3548,"v":120},{"t":3556,"v":125},{"t":3564,"v":110},{"t":3572,"v":105},{"t":3580,"v":95},{"t":3588,"v":85},{"t":3596,"v":70}
]
},
"hconcat": [
{
 "width": 475, "height": 430,
 "layer": [
  {
   "data": {"name": "bell"},
   "mark": {"type": "line", "strokeWidth": 1.3, "clip": true},
   "encoding": {
    "x": {"field": "t", "type": "quantitative", "scale": {"domain": [0, 3570], "nice": false, "zero": false}, "axis": {"values": [0,500,1000,1500,2000,2500,3000,3500], "title": "Time since start of trace (seconds)"}},
    "y": {"field": "v", "type": "quantitative", "scale": {"domain": [0, 120], "nice": false}, "axis": {"values": [0,20,40,60,80,100,120], "title": null}},
    "color": {"datum": "Bell Trace", "type": "nominal", "scale": {"range": ["#000000"]}, "legend": {"orient": "none", "legendX": 429, "legendY": -3, "title": null, "symbolType": "stroke", "symbolSize": 1000, "symbolStrokeWidth": 1, "labelAlign": "right", "labelOffset": -43, "padding": 0}}
   }
  },
  {
   "data": {"values": [{"t": 0, "v": 0}]},
   "mark": {"type": "point", "opacity": 0},
   "encoding": {
    "x": {"field": "t", "type": "quantitative", "scale": {"domain": [0, 3570], "nice": false, "zero": false}, "axis": {"orient": "top", "values": [0,500,1000,1500,2000,2500,3000,3500], "labels": false, "title": null}},
    "y": {"field": "v", "type": "quantitative", "scale": {"domain": [0, 120], "nice": false}, "axis": {"orient": "right", "values": [0,20,40,60,80,100,120], "labels": false, "title": null}}
   }
  }
 ],
 "resolve": {"axis": {"x": "independent", "y": "independent"}}
},
{
 "width": 479, "height": 430,
 "layer": [
  {
   "data": {"name": "ogi"},
   "mark": {"type": "line", "strokeWidth": 1.3, "clip": true},
   "encoding": {
    "x": {"field": "t", "type": "quantitative", "scale": {"domain": [0, 3600], "nice": false, "zero": false}, "axis": {"values": [0,500,1000,1500,2000,2500,3000,3500], "title": "Time since start of trace (seconds)"}},
    "y": {"field": "v", "type": "quantitative", "scale": {"domain": [0, 450], "nice": false}, "axis": {"values": [0,50,100,150,200,250,300,350,400,450], "title": null}},
    "color": {"datum": "OGI Trace", "type": "nominal", "scale": {"range": ["#000000"]}, "legend": {"orient": "none", "legendX": 434, "legendY": -3, "title": null, "symbolType": "stroke", "symbolSize": 1000, "symbolStrokeWidth": 1, "labelAlign": "right", "labelOffset": -43, "padding": 0}}
   }
  },
  {
   "data": {"values": [{"t": 0, "v": 0}]},
   "mark": {"type": "point", "opacity": 0},
   "encoding": {
    "x": {"field": "t", "type": "quantitative", "scale": {"domain": [0, 3600], "nice": false, "zero": false}, "axis": {"orient": "top", "values": [0,500,1000,1500,2000,2500,3000,3500], "labels": false, "title": null}},
    "y": {"field": "v", "type": "quantitative", "scale": {"domain": [0, 450], "nice": false}, "axis": {"orient": "right", "values": [0,50,100,150,200,250,300,350,400,450], "labels": false, "title": null}}
   }
  }
 ],
 "resolve": {"axis": {"x": "independent", "y": "independent"}}
}
]
}
